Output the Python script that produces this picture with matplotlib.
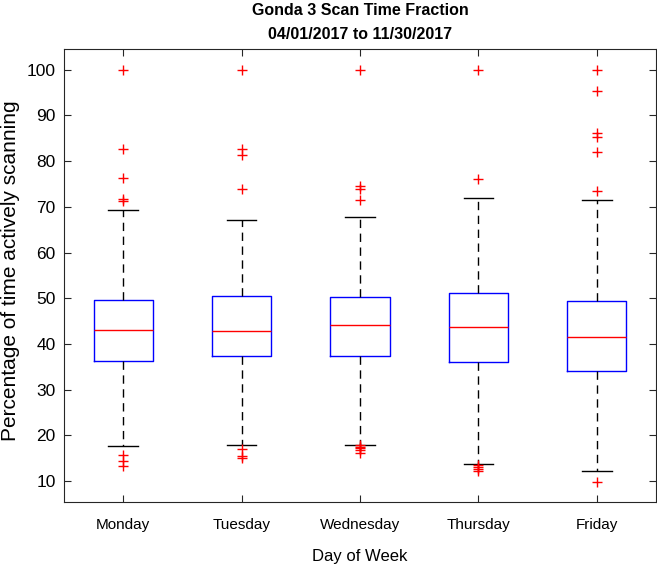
# Gonda 3 scan time fraction, boxplot per weekday (MATLAB-style)

import matplotlib
matplotlib.use("Agg")
import matplotlib.pyplot as plt

plt.rcParams['font.family'] = ['Liberation Sans', 'DejaVu Sans']

days = ["Monday", "Tuesday", "Wednesday", "Thursday", "Friday"]

q1 = [36.3, 37.4, 37.4, 36.1, 34.2]
med = [43.1, 42.9, 44.1, 43.8, 41.6]
q3 = [49.7, 50.5, 50.3, 51.1, 49.5]
whislo = [17.6, 17.9, 18.0, 13.7, 12.2]
whishi = [69.3, 67.2, 67.8, 71.9, 71.6]
fliers = [
    [100, 82.6, 76.3, 71.7, 71.3, 15.7, 14.4, 13.2],
    [100, 82.6, 81.4, 73.9, 17.1, 15.6, 15.1],
    [100, 74.5, 74.0, 71.5, 17.8, 17.5, 17.3, 16.7, 16.2],
    [100, 76.2, 13.5, 13.0, 12.6, 12.2],
    [100, 95.3, 86.2, 85.3, 82.1, 73.5, 9.8],
]

stats = []
for i in range(len(days)):
    stats.append(dict(label=days[i], q1=q1[i], med=med[i], q3=q3[i],
                      whislo=whislo[i], whishi=whishi[i], fliers=fliers[i]))

fig = plt.figure(figsize=(6.57, 5.67), dpi=100)
ax = fig.add_axes([0.0974, 0.1152, 0.901, 0.798])

ax.bxp(stats, widths=0.5, capwidths=0.25,
       boxprops=dict(color="#0000ff", linewidth=1.0),
       medianprops=dict(color="#ff0000", linewidth=1.0),
       whiskerprops=dict(color="black", linewidth=1.0, linestyle=(0, (6, 4))),
       capprops=dict(color="black", linewidth=1.0),
       flierprops=dict(marker="+", markeredgecolor="#ff0000", markersize=7,
                       markeredgewidth=1.0, linestyle="none"))

ax.set_xlim(0.5, 5.5)
ax.set_ylim(5.5, 104.5)
ax.set_yticks(range(10, 101, 10))
ax.set_xticks(range(1, 6))
ax.set_xticklabels(days)

ax.tick_params(direction="in", top=True, right=True, length=5, width=0.8,
               colors="#262626", labelcolor="black")
ax.tick_params(axis="x", labelsize=11, pad=12)
ax.tick_params(axis="y", labelsize=12.5, pad=6)
for s in ax.spines.values():
    s.set_color("#262626")
    s.set_linewidth(0.8)

ax.set_xlabel("Day of Week", fontsize=12, labelpad=12)
ax.set_ylabel("Percentage of time actively scanning", fontsize=15)
ax.yaxis.set_label_coords(-0.074, 0.51)
ax.set_title("Gonda 3 Scan Time Fraction\n04/01/2017 to 11/30/2017",
             fontsize=11.5, fontweight="bold", linespacing=1.7, pad=7.5)

fig.savefig("out.png", dpi=100)
